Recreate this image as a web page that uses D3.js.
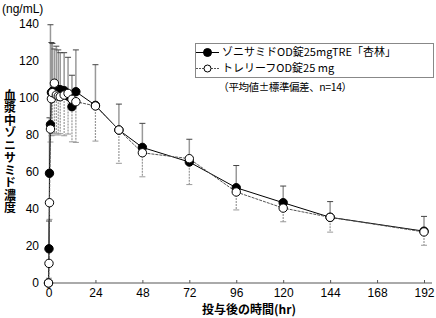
<!DOCTYPE html>
<html>
<head>
<meta charset="utf-8">
<script src="https://cdn.jsdelivr.net/npm/d3@7"></script>
<style>
  body { margin: 0; background: #fff; }
  svg { display: block; }
</style>
</head>
<body>
<div id="chart"></div>
<script>
const times = [0, 0.25, 0.5, 1, 1.5, 2, 3, 4, 5, 6, 8, 10, 12, 14, 24, 36, 48, 72, 96, 120, 144, 192]
const testMean = [0, 18.5, 59.3, 85.6, 103, 103.5, 104.5, 105, 104.5, 104.5, 104, 101, 95.3, 103.4, 96, 82.7, 73.3, 65.4, 51.5, 43.4, 35.5, 28]
const testSD = [0, 15, 30, 54, 27, 26, 22, 23, 21.5, 20, 20.5, 21, 17, 22.6, 22, 14, 13, 12.3, 12, 9, 8.5, 8]
const refMean = [0, 10.6, 43.4, 83.2, 99.6, 102.9, 108, 101.6, 101, 100.7, 101.6, 102.5, 99.3, 98, 95.7, 82.7, 70.4, 67.2, 49.2, 40.5, 35.5, 27.6]
const refSD = [0, 8, 9, 7, 20, 23, 27, 21, 21, 20, 22, 22, 23, 22, 19, 18, 13, 14, 9.7, 7.4, 8, 7.2]
const xTicks = [0, 24, 48, 72, 96, 120, 144, 168, 192]
const yTicks = [0, 20, 40, 60, 80, 100, 120, 140]
const seriesNames = ['ゾニサミドOD錠25mgTRE「杏林」', 'トレリーフOD錠25 mg']

const W = 436, H = 318
const svg = d3.select('#chart').append('svg').attr('width', W).attr('height', H)

const x = d3.scaleLinear().domain([0, 192]).range([48.5, 424])
const y = d3.scaleLinear().domain([0, 140]).range([283, 24])

const latin = 'Liberation Sans, Arial, sans-serif'
const jp = '"Noto Sans CJK JP", sans-serif'

// x axis
const xAxis = svg.append('g').attr('transform', `translate(0,${y(0)})`)
  .call(d3.axisBottom(x).tickValues(xTicks).tickSize(-3).tickPadding(5).tickSizeOuter(0))
xAxis.select('.domain').attr('stroke', '#aaa').attr('stroke-width', 2).attr('d', `M${x(0)},0H432`)
xAxis.selectAll('.tick line').attr('stroke', '#555')
xAxis.selectAll('.tick text').attr('font-family', latin).attr('font-size', 12).attr('fill', '#000')

// y tick labels (no axis line)
svg.append('g').selectAll('text').data(yTicks).join('text')
  .attr('x', 39).attr('y', d => y(d)).attr('dy', '0.35em')
  .attr('text-anchor', 'end').attr('font-family', latin).attr('font-size', 12)
  .text(d => d)

// titles
svg.append('text').attr('x', 2).attr('y', 13).attr('font-family', latin).attr('font-size', 12)
  .text('(ng/mL)')
svg.append('text').attr('x', 10).attr('y', 89)
  .attr('font-family', jp).attr('font-size', 12).attr('font-weight', 'bold')
  .style('writing-mode', 'vertical-rl').attr('letter-spacing', 0.5)
  .text('血漿中ゾニサミド濃度')
svg.append('text').attr('x', 249).attr('y', 314).attr('text-anchor', 'middle')
  .attr('font-family', jp).attr('font-size', 12).attr('font-weight', 'bold')
  .text('投与後の時間(hr)')

const test = times.map((t, i) => ({ t, m: testMean[i], sd: testSD[i] }))
const ref = times.map((t, i) => ({ t, m: refMean[i], sd: refSD[i] }))

// error bars: test upward, reference downward
const bars = svg.append('g')
bars.selectAll('.up').data(test.filter(d => d.sd > 0)).join('g').each(function (d) {
  const g = d3.select(this)
  g.append('line').attr('x1', x(d.t)).attr('x2', x(d.t)).attr('y1', y(d.m)).attr('y2', y(d.m + d.sd))
    .attr('stroke', '#999').attr('stroke-width', 1.5)
  g.append('line').attr('x1', x(d.t) - 3).attr('x2', x(d.t) + 3).attr('y1', y(d.m + d.sd)).attr('y2', y(d.m + d.sd))
    .attr('stroke', '#444')
})
bars.selectAll('.down').data(ref.filter(d => d.sd > 0)).join('g').each(function (d) {
  const g = d3.select(this)
  g.append('line').attr('x1', x(d.t)).attr('x2', x(d.t)).attr('y1', y(d.m)).attr('y2', y(d.m - d.sd))
    .attr('stroke', '#999').attr('stroke-width', 1.2).attr('stroke-dasharray', '2,1')
  g.append('line').attr('x1', x(d.t) - 3).attr('x2', x(d.t) + 3).attr('y1', y(d.m - d.sd)).attr('y2', y(d.m - d.sd))
    .attr('stroke', '#999')
})

const line = d3.line().x(d => x(d.t)).y(d => y(d.m))
svg.append('path').datum(test).attr('d', line).attr('fill', 'none').attr('stroke', '#000').attr('stroke-width', 1)
svg.append('path').datum(ref).attr('d', line).attr('fill', 'none').attr('stroke', '#555')
  .attr('stroke-width', 1).attr('stroke-dasharray', '3,1')

svg.append('g').selectAll('circle').data(test).join('circle')
  .attr('cx', d => x(d.t)).attr('cy', d => y(d.m)).attr('r', 4.2)
  .attr('fill', '#000').attr('stroke', '#000')
svg.append('g').selectAll('circle').data(ref).join('circle')
  .attr('cx', d => x(d.t)).attr('cy', d => y(d.m)).attr('r', 4.2)
  .attr('fill', '#fff').attr('stroke', '#000').attr('stroke-width', 1)

// legend
const lg = svg.append('g')
lg.append('rect').attr('x', 195.5).attr('y', 43.5).attr('width', 238).attr('height', 34)
  .attr('fill', '#fff').attr('stroke', '#888')
seriesNames.forEach((name, i) => {
  const ly = 52.5 + i * 16
  lg.append('line').attr('x1', 196).attr('x2', 219).attr('y1', ly).attr('y2', ly)
    .attr('stroke', i ? '#555' : '#000').attr('stroke-dasharray', i ? '2,1' : null)
  lg.append('circle').attr('cx', 207.5).attr('cy', ly).attr('r', i ? 3.5 : 4)
    .attr('fill', i ? '#fff' : '#000').attr('stroke', '#000')
  lg.append('text').attr('x', 222).attr('y', ly).attr('dy', '0.36em')
    .attr('font-family', jp).attr('font-size', 11).text(name)
})
lg.append('text').attr('x', 285).attr('y', 87).attr('dy', '0.36em').attr('text-anchor', 'middle')
  .attr('font-family', jp).attr('font-size', 10.5).attr('letter-spacing', -0.4)
  .text('（平均値±標準偏差、n=14）')
</script>
</body>
</html>
